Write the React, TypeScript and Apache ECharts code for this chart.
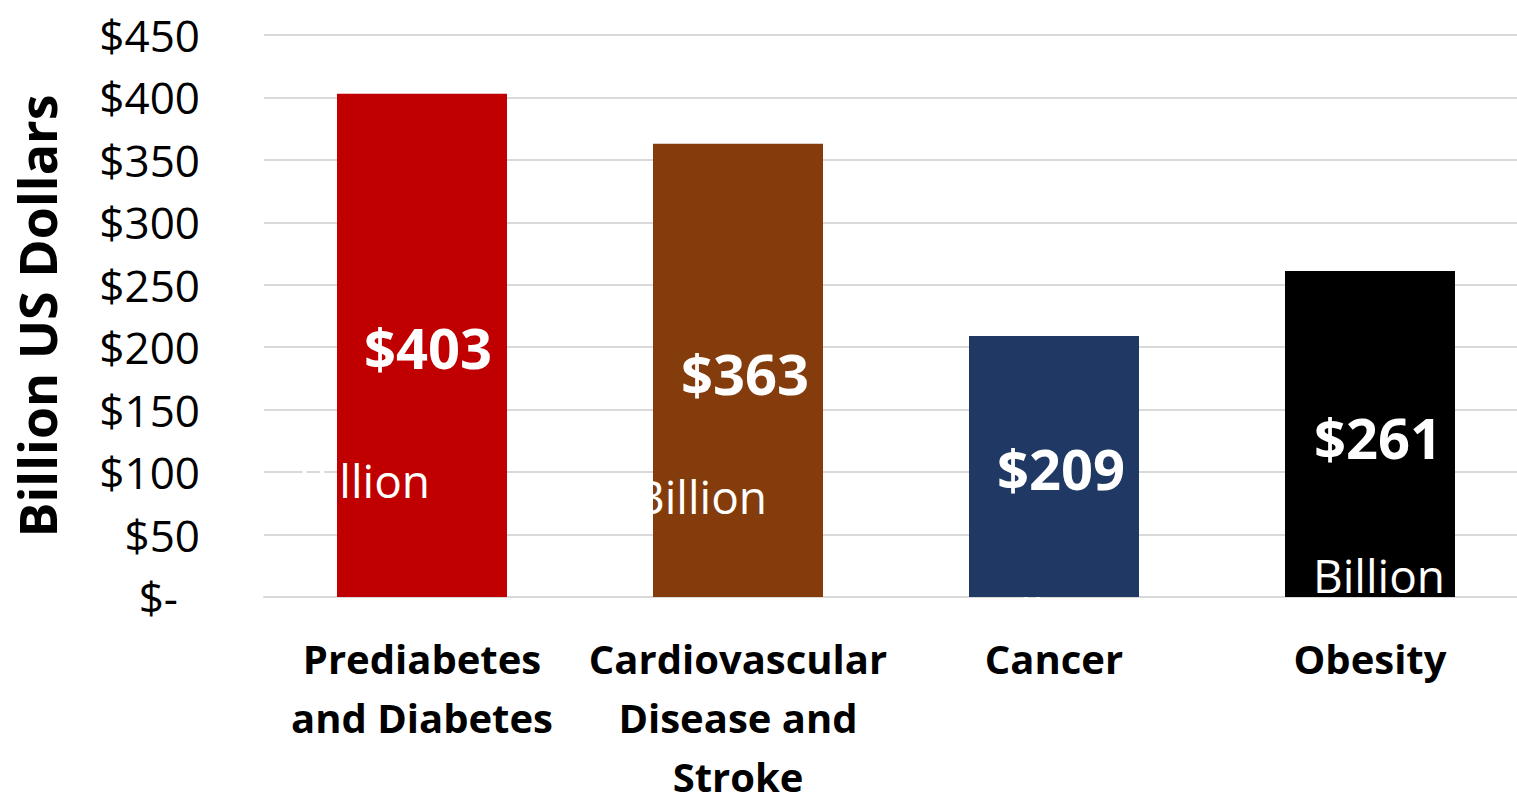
import React, { useEffect, useRef } from "react";
import * as echarts from "echarts";

const categories = ["Prediabetes\nand Diabetes", "Cardiovascular\nDisease and\nStroke", "Cancer", "Obesity"];
const values = [403, 363, 209, 261];
const barColors = ["#C00000", "#843C0C", "#203864", "#000000"];
const unitLabel = "Billion";
const yTicks = [0, 50, 100, 150, 200, 250, 300, 350, 400, 450];
const axisTitle = "Billion US Dollars";

// label anchor offsets inside each bar (pixels from bar's top-left)
const valueLabelPos = [[91, 253], [92, 229], [92, 132], [93, 166]];
const unitLabelPos = [[27, 386], [48, 352], [76, 278], [94, 304]];
const unitLineHeights = [40, 40, 28, 40];

const FONT = "'Open Sans', 'Noto Sans', sans-serif";

export default function App() {
  const ref = useRef<HTMLDivElement>(null);
  useEffect(() => {
    if (!ref.current) return;
    const chart = echarts.init(ref.current, undefined, { renderer: "svg" });
    chart.setOption({
      animation: false,
      backgroundColor: "#ffffff",
      grid: {
        left: 264,
        top: 35,
        width: 1264,
        height: 562,
        containLabel: false,
        outerBoundsMode: "none",
      },
      xAxis: {
        type: "category",
        data: categories,
        axisLine: { show: true, lineStyle: { color: "#d9d9d9", width: 2 } },
        axisTick: { show: false },
        axisLabel: {
          interval: 0,
          margin: 32,
          color: "#000",
          fontFamily: FONT,
          fontWeight: "bold",
          fontSize: 40,
          lineHeight: 59,
          align: "center",
        },
      },
      yAxis: {
        type: "value",
        min: 0,
        max: 450,
        interval: 50,
        name: axisTitle,
        nameLocation: "middle",
        nameGap: 202,
        nameRotate: 90,
        nameTextStyle: { color: "#000", fontFamily: FONT, fontWeight: "bold", fontSize: 52 },
        axisLine: { show: false },
        axisTick: { show: false },
        splitLine: { show: true, lineStyle: { color: "#d9d9d9", width: 2 } },
        axisLabel: {
          margin: 64,
          color: "#000",
          fontFamily: FONT,
          fontSize: 44,
          formatter: (v: number) => (yTicks.includes(v) ? (v === 0 ? "{z|$-}" : "$" + v) : ""),
          rich: { z: { fontFamily: FONT, fontSize: 44, color: "#000", padding: [0, 22, 0, 0] } },
        },
      },
      series: [
        {
          type: "bar",
          barWidth: 170,
          data: values.map((v, i) => ({
            value: v,
            itemStyle: { color: barColors[i] },
            label: {
              show: true,
              position: valueLabelPos[i],
              align: "center",
              verticalAlign: "middle",
              formatter: "${c}",
              color: "#fff",
              fontFamily: FONT,
              fontWeight: "bold",
              fontSize: 56,
            },
          })),
        },
        {
          type: "bar",
          barWidth: 170,
          barGap: "-100%",
          z: 3,
          data: values.map((v, i) => ({
            value: v,
            itemStyle: { color: "transparent" },
            label: {
              show: true,
              position: unitLabelPos[i],
              align: "center",
              verticalAlign: "middle",
              formatter: unitLabel,
              color: "#fff",
              fontFamily: FONT,
              fontSize: 46,
              lineHeight: unitLineHeights[i],
            },
          })),
        },
      ],
    });
    return () => chart.dispose();
  }, []);
  return (
    <div
      ref={ref}
      style={{ position: "absolute", left: 0, top: 0, width: 1517, height: 794, background: "#fff" }}
    />
  );
}
